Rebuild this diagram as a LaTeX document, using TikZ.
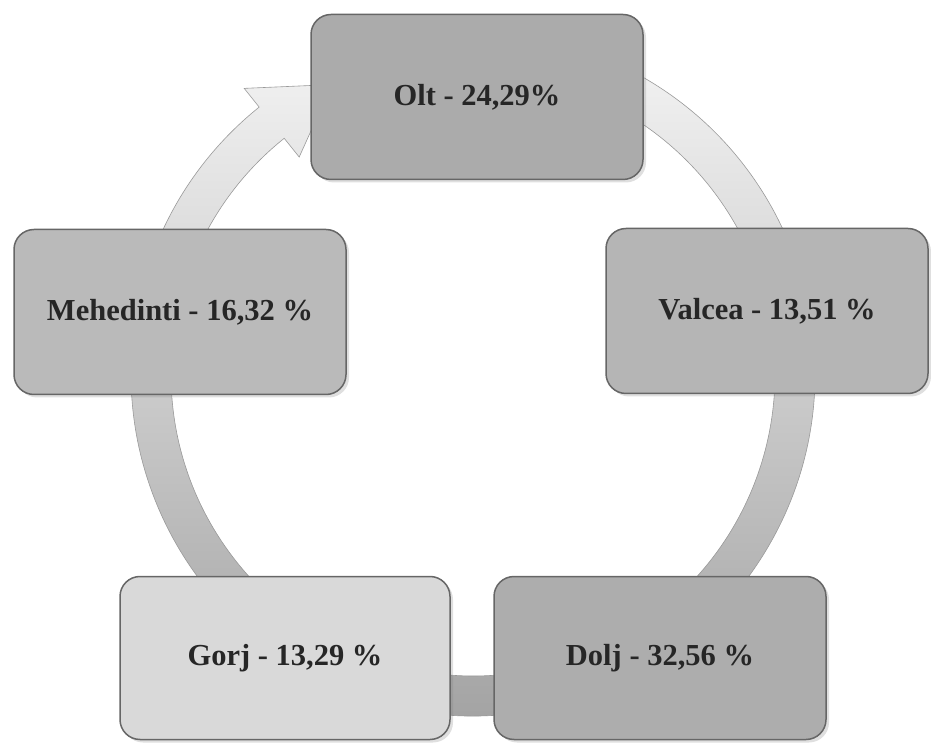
\documentclass[tikz,border=0pt]{standalone}
\usepackage{fontspec}
\setmainfont{Liberation Serif}
\usetikzlibrary{positioning,calc,shadows}
\tikzstyle{region}=[draw=black!60,line width=1.5pt,rounded corners=20pt,minimum width=332pt,minimum height=165pt,inner sep=0pt,font=\bfseries\fontsize{30.5}{36}\selectfont,text=black!85,drop shadow={opacity=0.25,shadow xshift=3pt,shadow yshift=-3pt}]
\tikzstyle{ring}=[draw=black!40,line width=0.6pt,top color=black!6,bottom color=black!38]

\begin{document}
\begin{tikzpicture}[x=1pt,y=1pt]
\useasboundingbox (0,0) rectangle (931,742);
\coordinate (c) at (473,368);
% cycle arrow behind the boxes
\shade[ring] ($(c)+(60:342)$) arc[start angle=60,end angle=-231.3,radius=342]
  -- ($(c)+(128.7:366)$) -- ($(c)+(116:322)$) -- ($(c)+(128.7:278)$)
  -- ($(c)+(128.7:302)$) arc[start angle=128.7,end angle=420,radius=302] -- cycle;
% the five counties
\node[region,fill=black!33] (olt) at (477,645) {Olt - 24,29\%};
\node[region,fill=black!29,minimum width=322pt] (valcea) at (767,431) {Valcea - 13,51 \%};
\node[region,fill=black!27] (mehedinti) at (180,430) {Mehedinti - 16,32 \%};
\node[region,fill=black!32,minimum height=163pt] (dolj) at (660,84) {Dolj - 32,56 \%};
\node[region,fill=black!15,minimum width=330pt,minimum height=163pt] (gorj) at (285,84) {Gorj - 13,29 \%};
\end{tikzpicture}
\end{document}
